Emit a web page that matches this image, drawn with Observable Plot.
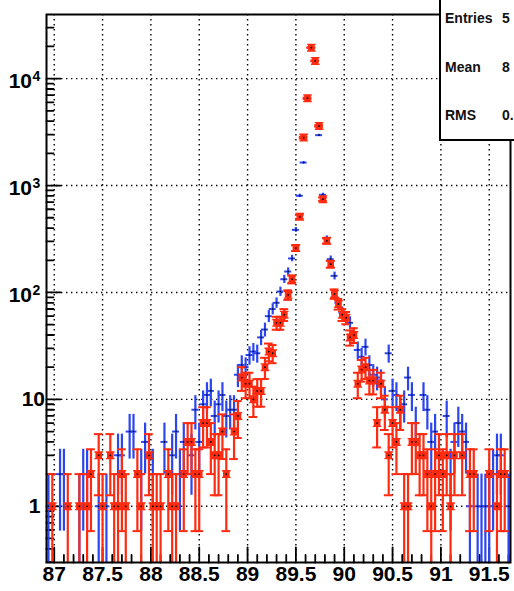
<!DOCTYPE html>
<html>
<head>
<meta charset="utf-8">
<script src="https://cdn.jsdelivr.net/npm/d3@7"></script>
<script src="https://cdn.jsdelivr.net/npm/@observablehq/plot@0.6"></script>
<style>
  html, body { margin: 0; padding: 0; background: #fff; overflow: hidden; }
  #wrap { position: relative; width: 514px; height: 591px; }
  #stats { position: absolute; left: 439px; top: -2px; width: 110px; height: 139px;
           border: 2px solid #000; background: #fff;
           font: bold 14px "Liberation Sans", Arial, sans-serif; color: #111; }
  #stats span { position: absolute; line-height: 16px; white-space: nowrap; }
</style>
</head>
<body>
<div id="wrap"><div id="stats"></div></div>
<script>
// ---- data ----
const binLow = 86.92;
const binWidth = 0.04;

const blueCounts = [
  1,0,0,2,2,0,0,0,1,2,
  2,0,0,1,0,1,0,0,3,3,
  0,5,5,0,2,4,0,2,0,0,
  4,0,3,5,2,4,0,3,8,4,
  9,11,12,7,9,11,7,8,8,17,
  21,20,26,28,27,38,45,60,70,80,
  102,133,157,208,385,802,1640,6500,19500,14600,
  2960,819,320,205,143,80,65,58,52,40,
  29,25,31,21,17,16,15,10,27,12,
  11,8,9,16,11,6,0,11,8,4,
  5,0,0,7,2,4,6,5,4,1,
  0,1,1,1,1,2,3,3,0,1
];

const redCounts = [
  0,1,0,0,0,1,0,0,1,0,
  1,2,0,3,1,0,3,1,1,2,
  1,0,0,2,1,0,3,1,1,1,
  0,2,1,1,0,2,4,4,2,2,
  6,6,4,3,3,5,2,0,5,7,
  16,14,14,10,12,12,20,28,27,52,
  52,62,95,133,260,510,2810,6560,19500,14650,
  3610,746,304,184,97,78,62,58,38,40,
  14,19,20,15,15,6,14,8,3,6,
  4,8,1,1,4,4,3,3,2,1,
  2,3,2,3,1,3,0,3,0,2,
  2,0,0,0,2,0,1,2,2,0
];

const xTickValues = [87, 87.5, 88, 88.5, 89, 89.5, 90, 90.5, 91, 91.5];
const xTickLabels = ["87", "87.5", "88", "88.5", "89", "89.5", "90", "90.5", "91", "91.5"];
const yPowerValues = [100, 1000, 10000];
const yPowerExponents = ["2", "3", "4"];
const yGridValues = [1, 10, 100, 1000, 10000];

// stats box as visible in the (clipped) reference
const statNames = ["Entries", "Mean", "RMS"];
const statValues = ["5", "8", "0."];

// ---- styles ----
const RED = "#ff2b10";
const BLUE = "#2b45f0";
const FONT = "'Liberation Sans', Arial, sans-serif";

const nBins = blueCounts.length;
const xDomain = [binLow, binLow + binWidth * nBins];
const yDomain = [0.298, 39800];

function rows(counts) {
  return counts.map((v, i) => {
    const e = Math.sqrt(v);
    return { x: binLow + binWidth * (i + 0.5), v, hi: v + e, lo: v - e > 0.05 ? v - e : 0.1 };
  }).filter(d => d.v > 0);
}
const blue = rows(blueCounts);
const red = rows(redCounts);

// tick positions
const xMinor = d3.range(870, 918).map(i => i / 10).filter(v => !xTickValues.some(t => Math.abs(t - v) < 1e-9) && v > xDomain[0] && v < xDomain[1]);
const yMinor = [];
for (let p = -1; p <= 4; p++) for (let m = 2; m <= 9; m++) { const v = m * Math.pow(10, p); if (v > yDomain[0] && v < yDomain[1]) yMinor.push(v); }

const tickShape = { draw(ctx, l) { ctx.moveTo(0, 0); ctx.lineTo(0, -l); } };
const redMarker = { draw(ctx) {
  const s = 3.3;
  ctx.moveTo(-s, -s); ctx.lineTo(s, -s); ctx.lineTo(s, s); ctx.lineTo(-s, s); ctx.closePath();
  ctx.moveTo(-4.3, -4.0); ctx.lineTo(4.3, -4.0); ctx.lineTo(4.3, -2.6); ctx.lineTo(-4.3, -2.6); ctx.closePath();
  ctx.moveTo(-4.3, 2.6); ctx.lineTo(4.3, 2.6); ctx.lineTo(4.3, 4.0); ctx.lineTo(-4.3, 4.0); ctx.closePath();
} };

const capHalf = 0.045;
const blueHalf = 0.036;

const chart = Plot.plot({
  width: 514,
  height: 591,
  marginLeft: 46,
  marginRight: 4,
  marginTop: 14,
  marginBottom: 29,
  style: { fontFamily: FONT, background: "#fff" },
  x: { domain: xDomain, axis: null },
  y: { type: "log", domain: yDomain, axis: null },
  marks: [
    // dotted grid
    Plot.ruleX(xTickValues, { stroke: "#000", strokeWidth: 1.4, strokeDasharray: "1.4,3.6" }),
    Plot.ruleY(yGridValues, { stroke: "#000", strokeWidth: 1.4, strokeDasharray: "1.4,3.6" }),
    // axis ticks (inside)
    Plot.vector(xTickValues, { x: d => d, frameAnchor: "bottom", length: 15, rotate: 0, anchor: "start", shape: tickShape, stroke: "#000", strokeWidth: 1.8 }),
    Plot.vector(xMinor, { x: d => d, frameAnchor: "bottom", length: 7.5, rotate: 0, anchor: "start", shape: tickShape, stroke: "#000", strokeWidth: 1.8 }),
    Plot.vector(yGridValues, { y: d => d, frameAnchor: "left", length: 14, rotate: 90, anchor: "start", shape: tickShape, stroke: "#000", strokeWidth: 1.8 }),
    Plot.vector(yMinor, { y: d => d, frameAnchor: "left", length: 7, rotate: 90, anchor: "start", shape: tickShape, stroke: "#000", strokeWidth: 1.8 }),
    // blue series
    Plot.ruleX(blue, { x: "x", y1: "lo", y2: "hi", stroke: BLUE, strokeWidth: 2.2, clip: true }),
    Plot.ruleY(blue, { y: "v", x1: d => d.x - blueHalf, x2: d => d.x + blueHalf, stroke: BLUE, strokeWidth: 2, clip: true }),
    Plot.dot(blue, { x: "x", y: "v", r: 0.8, fill: "#000", stroke: "none", clip: true }),
    // red series
    Plot.ruleX(red, { x: "x", y1: "lo", y2: "hi", stroke: RED, strokeWidth: 2.2, clip: true }),
    Plot.ruleY(red, { y: "hi", x1: d => d.x - capHalf, x2: d => d.x + capHalf, stroke: RED, strokeWidth: 2, clip: true }),
    Plot.ruleY(red, { y: "lo", x1: d => d.x - capHalf, x2: d => d.x + capHalf, stroke: RED, strokeWidth: 2, clip: true }),
    Plot.dot(red, { x: "x", y: "v", symbol: redMarker, fill: RED, stroke: "none", clip: true }),
    Plot.dot(red, { x: "x", y: "v", r: 0.9, fill: "#000", stroke: "none", clip: true }),
    // frame
    Plot.frame({ stroke: "#000", strokeWidth: 2 }),
    // x labels
    Plot.text(xTickValues, { x: d => d, text: (d, i) => xTickLabels[i], frameAnchor: "bottom", dy: 18.5, fontSize: 21, fontWeight: "bold", fill: "#000" }),
    // y labels
    Plot.text(yPowerValues, { y: d => d, text: () => "10", frameAnchor: "left", textAnchor: "end", dx: -14.5, dy: 3, fontSize: 21, fontWeight: "bold", fill: "#000" }),
    Plot.text(yPowerValues, { y: d => d, text: (d, i) => yPowerExponents[i], frameAnchor: "left", textAnchor: "start", dx: -14, dy: -2, fontSize: 14, fontWeight: "bold", fill: "#000" }),
    Plot.text([10], { y: d => d, text: () => "10", frameAnchor: "left", textAnchor: "end", dx: -1.5, dy: 0, fontSize: 21, fontWeight: "bold", fill: "#000" }),
    Plot.text([1], { y: d => d, text: () => "1", frameAnchor: "left", textAnchor: "end", dx: -6, dy: 0, fontSize: 21, fontWeight: "bold", fill: "#000" })
  ]
});

const wrap = document.getElementById("wrap");
wrap.insertBefore(chart, wrap.firstChild);

const stats = document.getElementById("stats");
const rowTops = [10, 59, 107];
statNames.forEach((n, i) => {
  const a = document.createElement("span");
  a.textContent = n; a.style.left = "4px"; a.style.top = rowTops[i] + "px";
  const b = document.createElement("span");
  b.textContent = statValues[i]; b.style.left = "61px"; b.style.top = rowTops[i] + "px";
  stats.appendChild(a); stats.appendChild(b);
});
</script>
</body>
</html>
